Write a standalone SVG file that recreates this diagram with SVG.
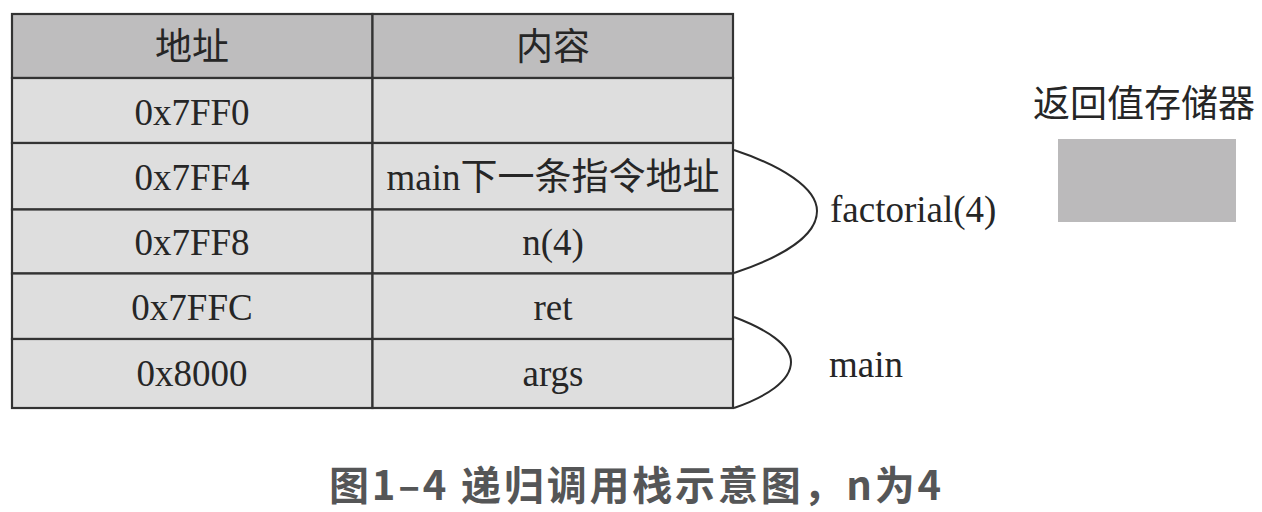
<svg xmlns="http://www.w3.org/2000/svg" width="1262" height="512" viewBox="0 0 1262 512">
<style>
.t{font-family:"Liberation Serif","Noto Sans CJK SC",serif;font-size:37px;fill:#262626;text-anchor:middle}
.l{font-family:"Liberation Serif","Noto Sans CJK SC",serif;font-size:37px;fill:#262626}
.hd{fill:#bebdbe;stroke:#333;stroke-width:2.2}
.cell{fill:#dedede;stroke:#333;stroke-width:2.2}
.br{fill:none;stroke:#2b2b2b;stroke-width:2}
.cap{font-family:"Noto Sans CJK SC","Noto Sans",sans-serif;font-weight:bold;font-size:40px;letter-spacing:2.8px;fill:#555657;text-anchor:middle}
</style>
<rect width="1262" height="512" fill="#ffffff"/>
<g id="header">
<rect class="hd" x="12" y="14" width="360.5" height="64"/>
<rect class="hd" x="372.5" y="14" width="360.5" height="64"/>
<text class="t" x="192" y="60">地址</text>
<text class="t" x="553" y="60">内容</text>
</g>
<g id="row-7FF0">
<rect class="cell" x="12" y="78" width="360.5" height="65"/>
<rect class="cell" x="372.5" y="78" width="360.5" height="65"/>
<text class="t" x="192" y="125">0x7FF0</text>
</g>
<g id="row-7FF4">
<rect class="cell" x="12" y="143" width="360.5" height="66.5"/>
<rect class="cell" x="372.5" y="143" width="360.5" height="66.5"/>
<text class="t" x="192" y="190">0x7FF4</text>
<text class="t" x="553" y="190">main下一条指令地址</text>
</g>
<g id="row-7FF8">
<rect class="cell" x="12" y="209.5" width="360.5" height="64"/>
<rect class="cell" x="372.5" y="209.5" width="360.5" height="64"/>
<text class="t" x="192" y="255">0x7FF8</text>
<text class="t" x="553" y="255">n(4)</text>
</g>
<g id="row-7FFC">
<rect class="cell" x="12" y="273.5" width="360.5" height="65.5"/>
<rect class="cell" x="372.5" y="273.5" width="360.5" height="65.5"/>
<text class="t" x="192" y="320">0x7FFC</text>
<text class="t" x="553" y="320">ret</text>
</g>
<g id="row-8000">
<rect class="cell" x="12" y="339" width="360.5" height="69"/>
<rect class="cell" x="372.5" y="339" width="360.5" height="69"/>
<text class="t" x="192" y="386">0x8000</text>
<text class="t" x="553" y="386">args</text>
</g>
<g id="connectors">
<path class="br" d="M734,150 C782,166 817,188 817,211 C817,236 782,257 734,273"/>
<path class="br" d="M734,317 C766,329 791,345 791,362 C791,381 766,397 734,408"/>
</g>
<g id="label-factorial">
<text class="l" x="830" y="222">factorial(4)</text>
</g>
<g id="label-main">
<text class="l" x="829" y="377">main</text>
</g>
<g id="return-register">
<text class="l" x="1033" y="117">返回值存储器</text>
<rect x="1058" y="139" width="178" height="83" fill="#bbbabb"/>
</g>
<text class="cap" x="636.5" y="500">图1–4 递归调用栈示意图，n为4</text>
</svg>
